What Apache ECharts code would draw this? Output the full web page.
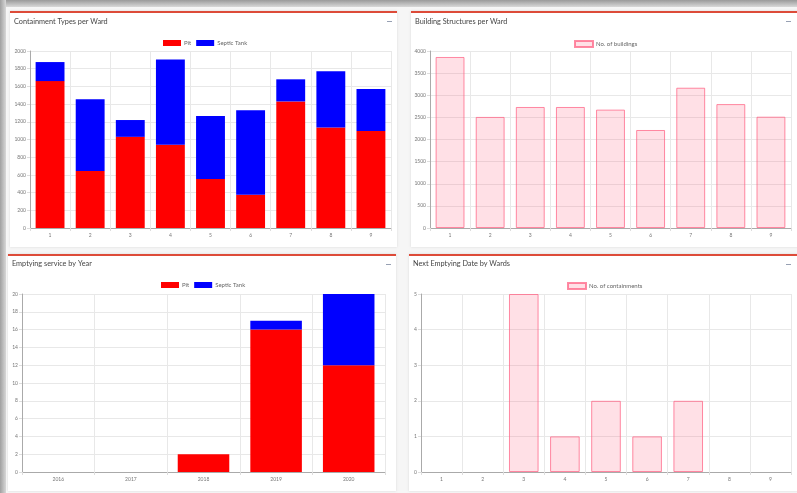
<!DOCTYPE html>
<html>
<head>
<meta charset="utf-8">
<script src="https://cdn.jsdelivr.net/npm/echarts@6/dist/echarts.min.js"></script>
<style>
html,body{margin:0;padding:0;background:#f5f5f5;}
#c{width:797px;height:493px;}
</style>
</head>
<body>
<div id="c"></div>
<script>
// ---- data ----
const wards = ['1','2','3','4','5','6','7','8','9'];
const pitPerWard = [1660, 645, 1030, 940, 555, 375, 1430, 1135, 1095];
const septicPerWard = [215, 810, 190, 965, 710, 955, 250, 635, 475];
const buildingsPerWard = [3865, 2510, 2735, 2735, 2675, 2215, 3170, 2800, 2515];
const years = ['2016','2017','2018','2019','2020'];
const pitPerYear = [0, 0, 2, 16, 12];
const septicPerYear = [0, 0, 0, 1, 8];
const containmentsPerWard = [0, 0, 5, 1, 2, 1, 2, 0, 0];
const titles = ['Containment Types per Ward','Building Structures per Ward','Emptying service by Year','Next Emptying Date by Wards'];

const chart = echarts.init(document.getElementById('c'), null, {renderer:'canvas'});

const RED = '#ff0000', BLUE = '#0000ff';
const PINK_FILL = 'rgba(255,99,132,0.2)', PINK_LINE = 'rgba(255,99,132,0.75)';
const tickFont = {fontSize:5, color:'#777', fontFamily:'Lato'};
const gridLine = {show:true, lineStyle:{color:'#e8e8e8', width:1}};

const panels = [
  {x:10, y:11, w:387, h:236},
  {x:411, y:11, w:390, h:236},
  {x:8, y:254, w:388, h:237},
  {x:409, y:254, w:392, h:237}
];
const titlePos = [[14,18],[415,18],[12,260.5],[413,260.5]];
const grids = [
  {left:30, top:51, width:361, height:177},
  {left:430, top:51, width:361, height:177},
  {left:22, top:294, width:363, height:178},
  {left:421, top:294, width:370, height:178}
];
const yMax = [2000, 4000, 20, 5];
const yInt = [200, 500, 2, 1];
const xCats = [wards, wards, years, wards];

const graphic = [
  {type:'rect', shape:{x:0,y:0,width:797,height:493}, style:{fill:'#f6f6f6'}, silent:true, z:-10},
  {type:'rect', shape:{x:0,y:0,width:797,height:7}, style:{fill:new echarts.graphic.LinearGradient(0,0,0,1,[{offset:0,color:'#9a9a9a'},{offset:1,color:'#d8d8d8'}])}, silent:true, z:-9},
  {type:'rect', shape:{x:0,y:0,width:6,height:493}, style:{fill:new echarts.graphic.LinearGradient(0,0,1,0,[{offset:0,color:'#a0a0a0'},{offset:1,color:'#d8d8d8'}])}, silent:true, z:-9}
];
panels.forEach((p,i)=>{
  graphic.push({type:'rect', shape:{x:p.x,y:p.y,width:p.w,height:p.h}, style:{fill:'#ffffff', shadowBlur:2, shadowColor:'rgba(0,0,0,0.12)'}, silent:true, z:-8});
  graphic.push({type:'rect', shape:{x:p.x,y:p.y,width:p.w,height:2}, style:{fill:'#dd4b39'}, silent:true, z:-7});
  const mx = i%2===0 ? p.x + p.w - 10 : 786;
  graphic.push({type:'rect', shape:{x:mx,y:p.y+10,width:5,height:1}, style:{fill:'#97a0b3'}, silent:true, z:-7});
});

const title = titles.map((t,i)=>({
  text:t, left:titlePos[i][0], top:titlePos[i][1], padding:0,
  textStyle:{fontSize:7.3, fontWeight:'normal', color:'#444', fontFamily:'Lato'}
}));

const legendBase = {itemWidth:18, itemHeight:6, itemGap:5, textStyle:{fontSize:6, color:'#666', fontFamily:'Lato', padding:[0,0,0,-2]}, icon:'rect', padding:0, selectedMode:false};
const legend = [
  Object.assign({}, legendBase, {left:163, top:40, data:['Pit','Septic Tank']}),
  Object.assign({}, legendBase, {left:574, top:40, data:['No. of buildings']}),
  Object.assign({}, legendBase, {left:161, top:282, data:['Pit','Septic Tank']}),
  Object.assign({}, legendBase, {left:567, top:282, data:['No. of containments']})
];

const xAxis = xCats.map((cats,i)=>({
  type:'category', gridIndex:i, data:cats, boundaryGap:true,
  axisLine:{show:true, lineStyle:{color:'#aaa', width:1}},
  axisTick:{show:true, length:3, lineStyle:{color:'#ddd'}},
  axisLabel:Object.assign({margin:5}, tickFont),
  splitLine:gridLine
}));
const yAxis = yMax.map((m,i)=>({
  type:'value', gridIndex:i, min:0, max:m, interval:yInt[i],
  axisLine:{show:true, lineStyle:{color:'#aaa', width:1}},
  axisTick:{show:true, length:3, lineStyle:{color:'#ddd'}},
  axisLabel:Object.assign({margin:4, formatter:(v)=>String(v)}, tickFont),
  splitLine:gridLine
}));

const series = [
  {name:'Pit', type:'bar', xAxisIndex:0, yAxisIndex:0, stack:'a', data:pitPerWard, barWidth:'72%', itemStyle:{color:RED}},
  {name:'Septic Tank', type:'bar', xAxisIndex:0, yAxisIndex:0, stack:'a', data:septicPerWard, barWidth:'72%', itemStyle:{color:BLUE}},
  {name:'No. of buildings', type:'bar', xAxisIndex:1, yAxisIndex:1, data:buildingsPerWard, barWidth:'72%', itemStyle:{color:PINK_FILL, borderColor:PINK_LINE, borderWidth:1}},
  {name:'Pit', type:'bar', xAxisIndex:2, yAxisIndex:2, stack:'b', data:pitPerYear, barWidth:'71%', itemStyle:{color:RED}},
  {name:'Septic Tank', type:'bar', xAxisIndex:2, yAxisIndex:2, stack:'b', data:septicPerYear, barWidth:'71%', itemStyle:{color:BLUE}},
  {name:'No. of containments', type:'bar', xAxisIndex:3, yAxisIndex:3,
    data:containmentsPerWard.map(v=> v===0 ? {value:v, itemStyle:{borderWidth:0}} : v),
    barWidth:'72%', itemStyle:{color:PINK_FILL, borderColor:PINK_LINE, borderWidth:1}}
];

chart.setOption({
  animation:false,
  backgroundColor:'transparent',
  textStyle:{fontFamily:'Lato'},
  graphic, title, legend, grid:grids, xAxis, yAxis, series
});
</script>
</body>
</html>
